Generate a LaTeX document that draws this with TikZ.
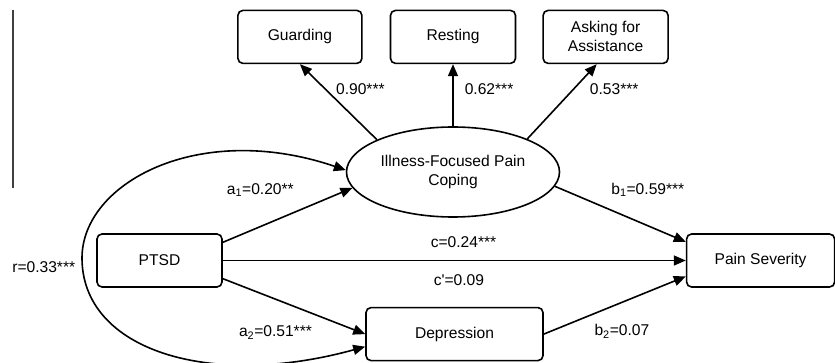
\documentclass[tikz,border=0pt]{standalone}
\usepackage{fontspec}
\setmainfont{Liberation Sans}
\usetikzlibrary{arrows.meta, positioning, shapes.geometric}

\begin{document}
\begin{tikzpicture}[x=1pt, y=1pt, font=\fontsize{15.6pt}{19pt}\selectfont,
        obs/.style={draw, line width=1.6pt, rounded corners=5pt, minimum height=53pt, inner sep=2pt, align=center},
        lat/.style={draw, ellipse, line width=1.6pt, minimum width=213pt, minimum height=90pt, inner sep=0pt, align=center},
        eff/.style={-{Triangle[length=12pt, width=10pt]}, line width=1.6pt},
        cov/.style={{Triangle[length=12pt, width=10pt]}-{Triangle[length=12pt, width=10pt]}, line width=1.6pt},
        lbl/.style={inner sep=2pt}]
        \useasboundingbox (0,0) rectangle (835,-363);
        \draw[line width=1.2pt, black!75] (13,-10) -- (13,-188);
        \node[lat] (coping) at (453,-172) {Illness-Focused Pain\\Coping};
        \node[obs, minimum width=125pt, above=62pt of coping] (resting) {Resting};
        \node[obs, minimum width=124pt, left=27pt of resting] (guarding) {Guarding};
        \node[obs, minimum width=125pt, right=26pt of resting] (asking) {Asking for\\Assistance};
        \node[obs, minimum width=125pt] (ptsd) at (159.5,-260.5) {PTSD};
        \node[obs, minimum width=148pt, right=463pt of ptsd] (pain) {Pain Severity};
        \node[obs, minimum width=177pt, below=89pt of coping, xshift=1.5pt] (depression) {Depression};
        \coordinate (rleft) at (82,-258);
        % indicators
        \draw[eff] (coping.157) -- node[lbl, pos=.67, right=8pt]{0.90***} (guarding.south);
        \draw[eff] (coping.north) -- node[lbl, pos=.6, right=9pt]{0.62***} (resting.south);
        \draw[eff] (coping.24) -- node[lbl, pos=.66, right=14pt]{0.53***} (asking.-108);
        % paths
        \draw[eff] (ptsd.16) -- node[lbl, pos=.29, above=27pt]{a\textsubscript{1}=0.20**} (coping.189);
        \draw[eff] (ptsd.-16) -- node[lbl, pos=.37, below=24pt]{a\textsubscript{2}=0.51***} (depression.west);
        \draw[eff] (ptsd.east) -- node[lbl, pos=.52, above=10pt]{c=0.24***} node[lbl, pos=.51, below=11pt]{c\textquotesingle=0.09} (pain.west);
        \draw[eff] (coping.-8) -- node[lbl, pos=.71, above=26pt]{b\textsubscript{1}=0.59***} (pain.166);
        \draw[eff] (depression.east) -- node[lbl, pos=.55, below=19pt]{b\textsubscript{2}=0.07} (pain.192);
        \draw[cov] (coping.179) .. controls +(-147,50) and +(0,75) .. (rleft) node[lbl, left=4pt, yshift=-9pt]{r=0.33***}
          .. controls +(0,-92) and +(-156,-43) .. (depression.188);
      \end{tikzpicture}
\end{document}
